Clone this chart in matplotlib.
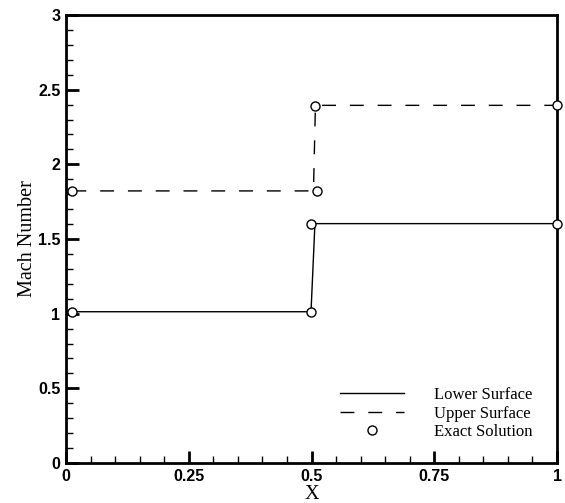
import matplotlib
matplotlib.use("Agg")
import matplotlib.pyplot as plt
from matplotlib.ticker import MultipleLocator

# Data
lower_x = [0.013, 0.499, 0.507, 1.0]
lower_y = [1.013, 1.013, 1.603, 1.603]
upper_x = [0.013, 0.504, 0.508, 1.0]
upper_y = [1.822, 1.822, 2.395, 2.395]
exact_x = [0.013, 0.499, 0.499, 1.0, 0.013, 0.511, 0.508, 1.0]
exact_y = [1.013, 1.013, 1.603, 1.603, 1.822, 1.822, 2.392, 2.395]

xticks = [0, 0.25, 0.5, 0.75, 1]
xticklabels = ["0", "0.25", "0.5", "0.75", "1"]
yticks = [0, 0.5, 1, 1.5, 2, 2.5, 3]
yticklabels = ["0", "0.5", "1", "1.5", "2", "2.5", "3"]

fig = plt.figure(figsize=(5.65, 5.03), dpi=100)
ax = fig.add_axes([66 / 565, 40 / 503, 491 / 565, 448 / 503])

ax.plot(lower_x, lower_y, color="black", lw=1.0, label="Lower Surface")
ax.plot(upper_x, upper_y, color="black", lw=1.0, dashes=(10, 10), label="Upper Surface")
ax.plot(exact_x, exact_y, linestyle="none", marker="o", ms=6.5, mfc="white",
        mec="black", mew=1.0, label="Exact Solution", clip_on=False, zorder=5)

ax.set_xlim(0, 1)
ax.set_ylim(0, 3)
ax.set_xticks(xticks)
ax.set_xticklabels(xticklabels)
ax.set_yticks(yticks)
ax.set_yticklabels(yticklabels)
ax.xaxis.set_minor_locator(MultipleLocator(0.05))
ax.yaxis.set_minor_locator(MultipleLocator(0.1))

ax.tick_params(which="both", direction="in", top=False, right=False)
ax.tick_params(which="major", length=9, width=2.0, pad=4)
ax.tick_params(which="minor", length=5, width=1.0)
for lab in ax.get_xticklabels() + ax.get_yticklabels():
    lab.set_fontfamily("Liberation Sans")
    lab.set_fontweight("bold")
    lab.set_fontsize(11.5)

for s in ax.spines.values():
    s.set_linewidth(2.0)

ax.set_xlabel("X", family="Liberation Serif", fontsize=14.5, labelpad=1)
ax.set_ylabel("Mach Number", family="Liberation Serif", fontsize=14.5, labelpad=1)

leg = ax.legend(loc="lower right", bbox_to_anchor=(0.97, 0.029), frameon=False,
                prop={"family": "Liberation Serif", "size": 12},
                handlelength=3.8, handletextpad=1.8, labelspacing=0.15,
                borderaxespad=0.2)

fig.savefig("out.png", dpi=100)
